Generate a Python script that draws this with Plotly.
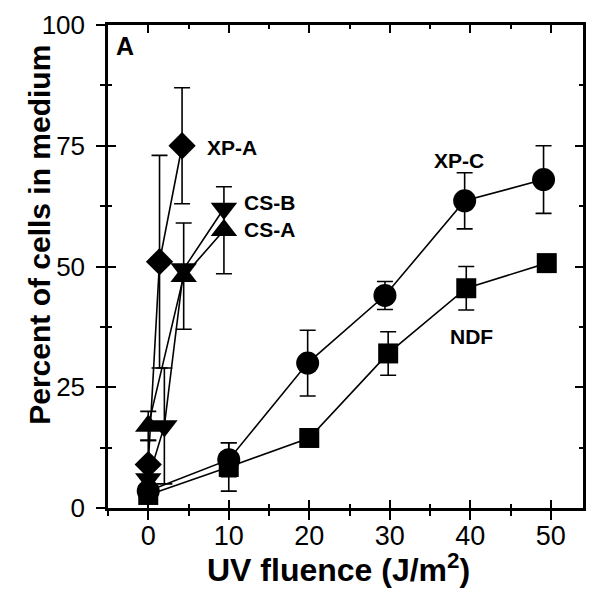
import plotly.graph_objects as go

# ---- data ----
xpa_x = [0, 1.4, 4.2]
xpa_y = [9, 51, 75]
xpa_err = [5, 22, 12]

csb_x = [0, 2, 4.4, 9.4]
csb_y = [6, 17, 49.5, 62]
csb_err = [0, 12, 0, 0]

csa_x = [0, 4.4, 9.4]
csa_y = [17, 48, 57.5]
csa_err = [3, 11, 9]

xpc_x = [0, 10, 19.8, 29.4, 39.3, 49.1]
xpc_y = [3.5, 10, 30, 44, 63.6, 68]
xpc_err = [0, 3.5, 6.8, 2.9, 5.8, 7]

ndf_x = [0, 10, 20, 29.8, 39.5, 49.5]
ndf_y = [2.7, 8.5, 14.5, 32, 45.5, 50.7]
ndf_err = [0, 5, 0, 4.5, 4.5, 0]

x_ticks = [0, 10, 20, 30, 40, 50]
y_ticks = [0, 25, 50, 75, 100]

FONT = "Liberation Sans"
BLACK = "black"

series = [
    ("XP-A", xpa_x, xpa_y, xpa_err, "diamond", 21),
    ("CS-B", csb_x, csb_y, csb_err, "triangle-down", 23),
    ("CS-A", csa_x, csa_y, csa_err, "triangle-up", 23),
    ("XP-C", xpc_x, xpc_y, xpc_err, "circle", 23),
    ("NDF", ndf_x, ndf_y, ndf_err, "square", 20),
]

fig = go.Figure()
for name, xs, ys, es, sym, sz in series:
    fig.add_trace(go.Scatter(
        x=xs, y=ys, name=name, mode="lines+markers",
        line=dict(color=BLACK, width=1.6),
        marker=dict(symbol=sym, size=sz, color=BLACK, line=dict(width=0)),
        error_y=dict(type="data", array=es, visible=True, color=BLACK,
                     thickness=1.6, width=8),
        showlegend=False, cliponaxis=False,
    ))

# dummy trace for overlay axes (inside half of crossing ticks)
fig.add_trace(go.Scatter(x=[None], y=[None], xaxis="x2", yaxis="y2",
                         showlegend=False, hoverinfo="skip"))

fig.update_layout(
    width=596, height=593,
    margin=dict(l=108, r=10, t=23, b=85),
    paper_bgcolor="white", plot_bgcolor="white",
    font=dict(family=FONT, color=BLACK),
    xaxis=dict(range=[-5, 54], tickmode="array", tickvals=x_ticks,
               ticktext=[str(v) for v in x_ticks],
               ticks="outside", ticklen=9, tickwidth=2, tickcolor=BLACK,
               minor=dict(ticks="outside", ticklen=5, tickwidth=2,
                          dtick=5, tick0=0, tickcolor=BLACK),
               showline=True, linewidth=2.5, linecolor=BLACK, mirror=True,
               showgrid=False, zeroline=False, ticklabelstandoff=-7,
               tickfont=dict(size=27, family=FONT, color=BLACK)),
    yaxis=dict(range=[0, 100], tickmode="array", tickvals=y_ticks,
               ticktext=[str(v) for v in y_ticks],
               ticks="outside", ticklen=9, tickwidth=2, tickcolor=BLACK,
               minor=dict(ticks="outside", ticklen=5, tickwidth=2,
                          dtick=12.5, tick0=0, tickcolor=BLACK),
               showline=True, linewidth=2.5, linecolor=BLACK, mirror=True,
               showgrid=False, zeroline=False, ticklabelstandoff=6,
               tickfont=dict(size=26, family=FONT, color=BLACK)),
    xaxis2=dict(range=[-5, 54], overlaying="x", side="bottom",
                tickmode="array", tickvals=x_ticks, showticklabels=False,
                ticks="inside", ticklen=8, tickwidth=2, tickcolor=BLACK,
                minor=dict(ticks="inside", ticklen=4, tickwidth=2,
                           dtick=5, tick0=0, tickcolor=BLACK),
                mirror="ticks", showline=False, showgrid=False, zeroline=False),
    yaxis2=dict(range=[0, 100], overlaying="y", side="left",
                tickmode="array", tickvals=y_ticks, showticklabels=False,
                ticks="inside", ticklen=8, tickwidth=2, tickcolor=BLACK,
                minor=dict(ticks="inside", ticklen=4, tickwidth=2,
                           dtick=12.5, tick0=0, tickcolor=BLACK),
                mirror="ticks", showline=False, showgrid=False, zeroline=False),
)

lab_font = dict(family=FONT, size=21, color=BLACK)
labels = [
    ("XP-A", 7.0, 74.6),
    ("CS-B", 11.6, 63.3),
    ("CS-A", 11.6, 57.7),
    ("XP-C", 35.3, 72.0),
    ("NDF", 37.2, 35.5),
]
for txt, lx, ly in labels:
    fig.add_annotation(x=lx, y=ly, xref="x", yref="y", text="<b>%s</b>" % txt,
                       showarrow=False, xanchor="left", yanchor="middle",
                       font=lab_font)

fig.add_annotation(x=-2.85, y=95.7, xref="x", yref="y", text="<b>A</b>",
                   showarrow=False, xanchor="center", yanchor="middle",
                   font=dict(family=FONT, size=25, color=BLACK))

fig.add_annotation(x=0.485, y=-0.124, xref="paper", yref="paper",
                   text="<b>UV fluence (J/m<sup>2</sup>)</b>", showarrow=False,
                   xanchor="center", yanchor="middle",
                   font=dict(family=FONT, size=32, color=BLACK))
fig.add_annotation(x=-0.145, y=0.566, xref="paper", yref="paper",
                   text="<b>Percent of cells in medium</b>", showarrow=False,
                   textangle=-90, xanchor="center", yanchor="middle",
                   font=dict(family=FONT, size=30, color=BLACK))

fig.write_html("out.html")
